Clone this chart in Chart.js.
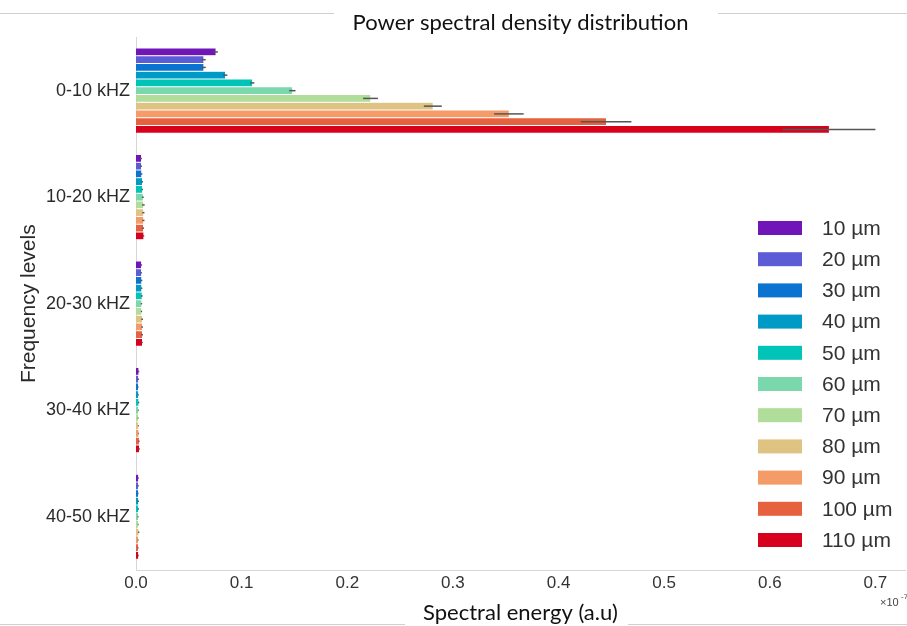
<!DOCTYPE html>
<html lang="en">
<head>
  <meta charset="UTF-8">
  <title>Power spectral density distribution</title>
  <script src="https://cdn.jsdelivr.net/npm/chart.js"></script>
  <style>
    body { margin: 0; background: #fff; }
    #wrap { width: 907px; height: 626px; }
  </style>
</head>
<body>
  <div id="wrap">
    <canvas id="psdChart" width="907" height="626"></canvas>
  </div>

  <script>
    // frequency bands (y axis) and particle sizes (series)
    const bands = ['0-10 kHZ', '10-20 kHZ', '20-30 kHZ', '30-40 kHZ', '40-50 kHZ'];
    const sizes = ['10 µm', '20 µm', '30 µm', '40 µm', '50 µm', '60 µm',
                   '70 µm', '80 µm', '90 µm', '100 µm', '110 µm'];
    const colors = ['#7016b9', '#5c5cd6', '#0a74d0', '#009ac6', '#00c4b8', '#7ad8ac',
                    '#b0dd9a', '#dfc383', '#f49b68', '#e6623e', '#d7001d'];

    // spectral energy (x 10^-7) per band, one value per size
    const band0to10  = [0.0755, 0.064, 0.064, 0.0845, 0.110, 0.148, 0.222, 0.281, 0.353, 0.445, 0.656];
    const band10to20 = [0.0048, 0.0048, 0.0052, 0.0058, 0.006, 0.0065, 0.007, 0.007, 0.007, 0.0068, 0.0072];
    const band20to30 = [0.005, 0.005, 0.0052, 0.0052, 0.0055, 0.0052, 0.0052, 0.0058, 0.0058, 0.0058, 0.0058];
    const band30to40 = [0.0025, 0.0022, 0.002, 0.0022, 0.0025, 0.0022, 0.002, 0.0022, 0.0025, 0.0028, 0.003];
    const band40to50 = [0.0022, 0.002, 0.002, 0.0022, 0.0022, 0.002, 0.002, 0.0025, 0.002, 0.002, 0.0022];

    // half widths of the error bars
    const err0to10  = [0.002, 0.002, 0.002, 0.002, 0.002, 0.003, 0.007, 0.0085, 0.014, 0.024, 0.044];
    const err10to20 = [0.0008, 0.0008, 0.0008, 0.0008, 0.0006, 0.0008, 0.0012, 0.001, 0.001, 0.0008, 0.0006];
    const err20to30 = [0.0008, 0.0006, 0.0008, 0.0008, 0.0008, 0.0006, 0.0006, 0.0008, 0.0008, 0.0008, 0.0006];
    const err30to40 = [0.0006, 0.0006, 0.0004, 0.0004, 0.0006, 0.0004, 0.0004, 0.0004, 0.0004, 0.0006, 0.0006];
    const err40to50 = [0.0004, 0.0006, 0.0004, 0.0006, 0.0006, 0.0004, 0.0004, 0.0006, 0.0004, 0.0004, 0.0004];

    const xTicks = [0, 0.1, 0.2, 0.3, 0.4, 0.5, 0.6, 0.7];

    const bandValues = [band0to10, band10to20, band20to30, band30to40, band40to50];
    const bandErrors = [err0to10, err10to20, err20to30, err30to40, err40to50];

    const datasets = sizes.map((label, i) => ({
      label: label,
      data: bandValues.map(b => b[i]),
      errors: bandErrors.map(e => e[i]),
      backgroundColor: colors[i],
      borderColor: 'rgba(255,255,255,0.55)',
      borderWidth: { top: 0.5, bottom: 0.5, left: 0, right: 0 },
      categoryPercentage: 0.8,
      barPercentage: 1.0
    }));

    // thin frame lines at the top and bottom of the figure
    const frameLines = {
      id: 'frameLines',
      beforeDraw(chart) {
        const c = chart.ctx;
        c.save();
        c.strokeStyle = '#d0d0d0';
        c.lineWidth = 1;
        c.beginPath();
        c.moveTo(0, 13.5); c.lineTo(334, 13.5);
        c.moveTo(718, 13.5); c.lineTo(907, 13.5);
        c.moveTo(0, 624.5); c.lineTo(405, 624.5);
        c.moveTo(628, 624.5); c.lineTo(907, 624.5);
        c.stroke();
        c.restore();
      }
    };

    // error bars drawn from the x scale
    const errorBars = {
      id: 'errorBars',
      afterDatasetsDraw(chart) {
        const c = chart.ctx;
        const xs = chart.scales.x;
        c.save();
        c.strokeStyle = '#555';
        c.lineWidth = 1.5;
        chart.data.datasets.forEach((ds, i) => {
          const meta = chart.getDatasetMeta(i);
          meta.data.forEach((bar, j) => {
            const v = ds.data[j], e = ds.errors[j];
            c.beginPath();
            c.moveTo(xs.getPixelForValue(v - e), bar.y);
            c.lineTo(xs.getPixelForValue(v + e), bar.y);
            c.stroke();
          });
        });
        c.restore();
      }
    };

    // legend inside the plot, lower right
    const insideLegend = {
      id: 'insideLegend',
      afterDraw(chart) {
        const c = chart.ctx;
        c.save();
        c.font = '21px "Liberation Sans", Arial, sans-serif';
        c.textBaseline = 'middle';
        chart.data.datasets.forEach((ds, i) => {
          const y = 228 + i * 31.2;
          c.fillStyle = ds.backgroundColor;
          c.fillRect(758, y - 7, 44, 14);
          c.fillStyle = '#333';
          c.fillText(ds.label, 822, y + 1);
        });
        // axis multiplier
        c.fillStyle = '#444';
        c.font = '11px "Liberation Sans", Arial, sans-serif';
        c.fillText('×10', 880, 603);
        c.font = '8px "Liberation Sans", Arial, sans-serif';
        c.fillText('-7', 901, 597);
        c.restore();
      }
    };

    const ctx = document.getElementById('psdChart').getContext('2d');
    const psdChart = new Chart(ctx, {
      type: 'bar',
      data: { labels: bands, datasets: datasets },
      plugins: [frameLines, errorBars, insideLegend],
      options: {
        indexAxis: 'y',
        responsive: false,
        animation: false,
        devicePixelRatio: 1,
        layout: { padding: { left: 0, right: 2, top: 0, bottom: 0 } },
        scales: {
          x: {
            type: 'linear',
            min: 0,
            max: 0.728,
            afterBuildTicks: s => { s.ticks = xTicks.map(v => ({ value: v })); },
            afterFit: s => { s.height = 56; },
            grid: { display: false, drawTicks: false },
            border: { color: '#d6d6d6', width: 1 },
            ticks: {
              padding: 3,
              color: '#333',
              font: { family: '"Liberation Sans Narrow", "Liberation Sans", Arial', size: 17 },
              callback: v => v.toFixed(1)
            },
            title: {
              display: true,
              text: 'Spectral energy (a.u)',
              color: '#111',
              font: { family: 'Lato, "Open Sans", sans-serif', size: 22 },
              padding: { top: 0, bottom: 0 }
            }
          },
          y: {
            afterFit: s => { s.width = 136; },
            grid: { display: false, drawTicks: false },
            border: { color: '#d6d6d6', width: 1 },
            ticks: {
              padding: 6,
              color: '#2a2a2a',
              font: { family: '"Liberation Sans", Arial', size: 18 }
            },
            title: {
              display: true,
              text: 'Frequency levels',
              color: '#2a2a2a',
              font: { family: '"Liberation Sans", Arial', size: 21 },
              padding: { top: 17, bottom: 0 }
            }
          }
        },
        plugins: {
          legend: { display: false },
          tooltip: { enabled: false },
          title: {
            display: true,
            fullSize: false,
            text: 'Power spectral density distribution',
            color: '#111',
            font: { family: 'Lato, "Open Sans", sans-serif', size: 22, weight: 'normal' },
            padding: { top: 10, bottom: 1 }
          }
        }
      }
    });
  </script>
</body>
</html>
